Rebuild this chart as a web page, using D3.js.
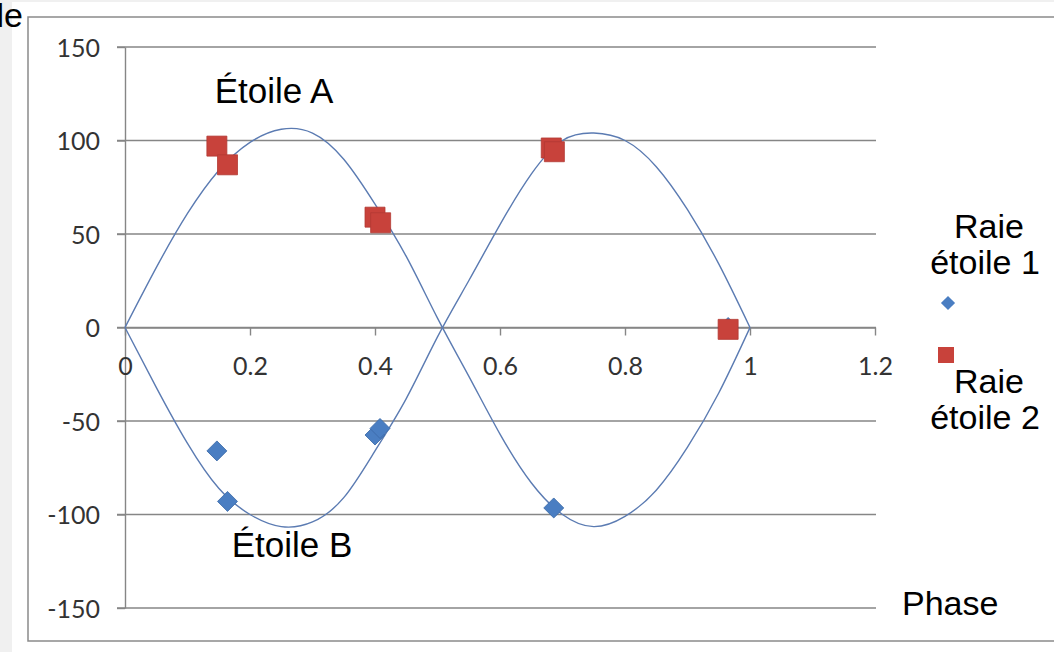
<!DOCTYPE html>
<html>
<head>
<meta charset="utf-8">
<script src="https://cdn.jsdelivr.net/npm/d3@7"></script>
<style>
  html, body { margin: 0; padding: 0; background: #f0f0f0; }
  svg { display: block; }
  .tick-label { font-family: Lato, "Open Sans", sans-serif; font-size: 25px; fill: #333; }
  .note { font-family: "Liberation Sans", Arial, sans-serif; fill: #000; }
</style>
</head>
<body>
<svg id="chart" width="1054" height="652"></svg>
<script>
// phase ticks and velocity ticks
const xTicks = [0, 0.2, 0.4, 0.6, 0.8, 1, 1.2];
const yTicks = [-150, -100, -50, 0, 50, 100, 150];

// measured points (phase, radial velocity)
const phase1 = [0.147, 0.164, 0.400, 0.408, 0.686, 0.965];
const speed1 = [-66, -93, -57.5, -54, -96.5, 0];
const phase2 = [0.147, 0.164, 0.400, 0.409, 0.682, 0.687, 0.965];
const speed2 = [97, 87, 59, 56, 96, 94, -1];

// fitted curves, every 0.05 in phase
const curvePhase = [0, 0.05, 0.1, 0.15, 0.2, 0.25, 0.3, 0.35, 0.4, 0.45, 0.5,
                    0.55, 0.6, 0.65, 0.7, 0.75, 0.8, 0.85, 0.9, 0.95, 1];
const curveA = [0, 32, 61, 84, 99, 106, 104, 90, 66, 38, 5,
                -26, -57, -83, -100, -106.5, -101, -87, -64, -35, 0];
const curveB = [0, -32, -62, -86, -100, -106.5, -104, -91, -66, -38, -5,
                25, 55, 82, 100, 104, 100, 86, 63, 34, 0];

const seriesNames = ["Raie étoile 1", "Raie étoile 2"];

const svg = d3.select("#chart");

// page frame: white sheet and chart border
svg.append("rect").attr("x", 12).attr("y", 2).attr("width", 1042).attr("height", 650).attr("fill", "#fff");
svg.append("rect").attr("x", 28).attr("y", 17).attr("width", 1040).attr("height", 624)
  .attr("fill", "none").attr("stroke", "#8a8a8a").attr("stroke-width", 1.5);

// cut-off title piece at the top left (cut in the original too)
svg.append("text").attr("class", "note")
  .attr("x", 23).attr("y", 27).attr("text-anchor", "end")
  .attr("font-size", 34).text("le");

const x = d3.scaleLinear().domain([0, 1.2]).range([125, 875]);
const y = d3.scaleLinear().domain([-150, 150]).range([608, 47]);

// horizontal gridlines
svg.append("g").selectAll("line")
  .data(yTicks)
  .join("line")
    .attr("x1", 117).attr("x2", 876)
    .attr("y1", d => y(d)).attr("y2", d => y(d))
    .attr("stroke", "#868686").attr("stroke-width", 1.4);

// y axis
const yAxisG = svg.append("g")
  .attr("transform", `translate(${x(0)},0)`)
  .call(d3.axisLeft(y).tickValues(yTicks).tickSize(8).tickSizeOuter(0).tickPadding(17)
    .tickFormat(d => String(d)));
yAxisG.selectAll("text").attr("class", "tick-label").attr("dy", "0.37em");

// x axis through zero
const xAxisG = svg.append("g")
  .attr("transform", `translate(0,${y(0)})`)
  .call(d3.axisBottom(x).tickValues(xTicks).tickSize(8).tickSizeOuter(0).tickFormat(d => String(d)));
xAxisG.selectAll("text").attr("class", "tick-label").attr("y", 47).attr("dy", null);

svg.selectAll(".domain, .tick line").attr("stroke", "#868686").attr("stroke-width", 1.4);
svg.selectAll(".tick text").attr("font-family", null).attr("font-size", null).attr("fill", null);

// fitted curves
const line = d3.line()
  .x((d, i) => x(curvePhase[i]))
  .y(d => y(d))
  .curve(d3.curveNatural);

[curveA, curveB].forEach(c => {
  svg.append("path")
    .datum(c)
    .attr("d", line)
    .attr("fill", "none")
    .attr("stroke", "#5b7bb2")
    .attr("stroke-width", 1.4);
});

const blue = "#4a7ec2", red = "#c8423b";
const diamond = d3.symbol().type(d3.symbolSquare).size(200);
const square = d3.symbol().type(d3.symbolSquare).size(400);

// star 1 points (diamonds)
svg.append("g").selectAll("path")
  .data(phase1.map((p, i) => [p, speed1[i]]))
  .join("path")
    .attr("d", diamond)
    .attr("transform", d => `translate(${x(d[0])},${y(d[1])}) rotate(45)`)
    .attr("fill", blue).attr("stroke", "#3b6aa8").attr("stroke-width", 0.8);

// star 2 points (squares)
svg.append("g").selectAll("path")
  .data(phase2.map((p, i) => [p, speed2[i]]))
  .join("path")
    .attr("d", square)
    .attr("transform", d => `translate(${x(d[0])},${y(d[1])})`)
    .attr("fill", red).attr("stroke", "#b23a34").attr("stroke-width", 0.8);

// annotations
svg.append("text").attr("class", "note").attr("font-size", 35)
  .attr("x", 274).attr("y", 103).attr("text-anchor", "middle").text("Étoile A");
svg.append("text").attr("class", "note").attr("font-size", 35)
  .attr("x", 292).attr("y", 557).attr("text-anchor", "middle").text("Étoile B");
svg.append("text").attr("class", "note").attr("font-size", 34)
  .attr("x", 902).attr("y", 615).text("Phase");

// legend
const legendItems = [
  {name: seriesNames[0], sym: d3.symbol().type(d3.symbolSquare).size(100), rot: 45, color: blue, mx: 948, my: 303, ty: 238},
  {name: seriesNames[1], sym: d3.symbol().type(d3.symbolSquare).size(256), rot: 0, color: red, mx: 946, my: 355, ty: 393}
];
legendItems.forEach(it => {
  svg.append("path")
    .attr("d", it.sym)
    .attr("transform", `translate(${it.mx},${it.my}) rotate(${it.rot})`)
    .attr("fill", it.color);
  const words = it.name.split(" ");
  const t = svg.append("text").attr("class", "note").attr("font-size", 34)
    .attr("text-anchor", "middle").attr("y", it.ty);
  t.append("tspan").attr("x", 989).text(words[0]);
  t.append("tspan").attr("x", 985).attr("dy", 36).text(words.slice(1).join(" "));
});
</script>
</body>
</html>
